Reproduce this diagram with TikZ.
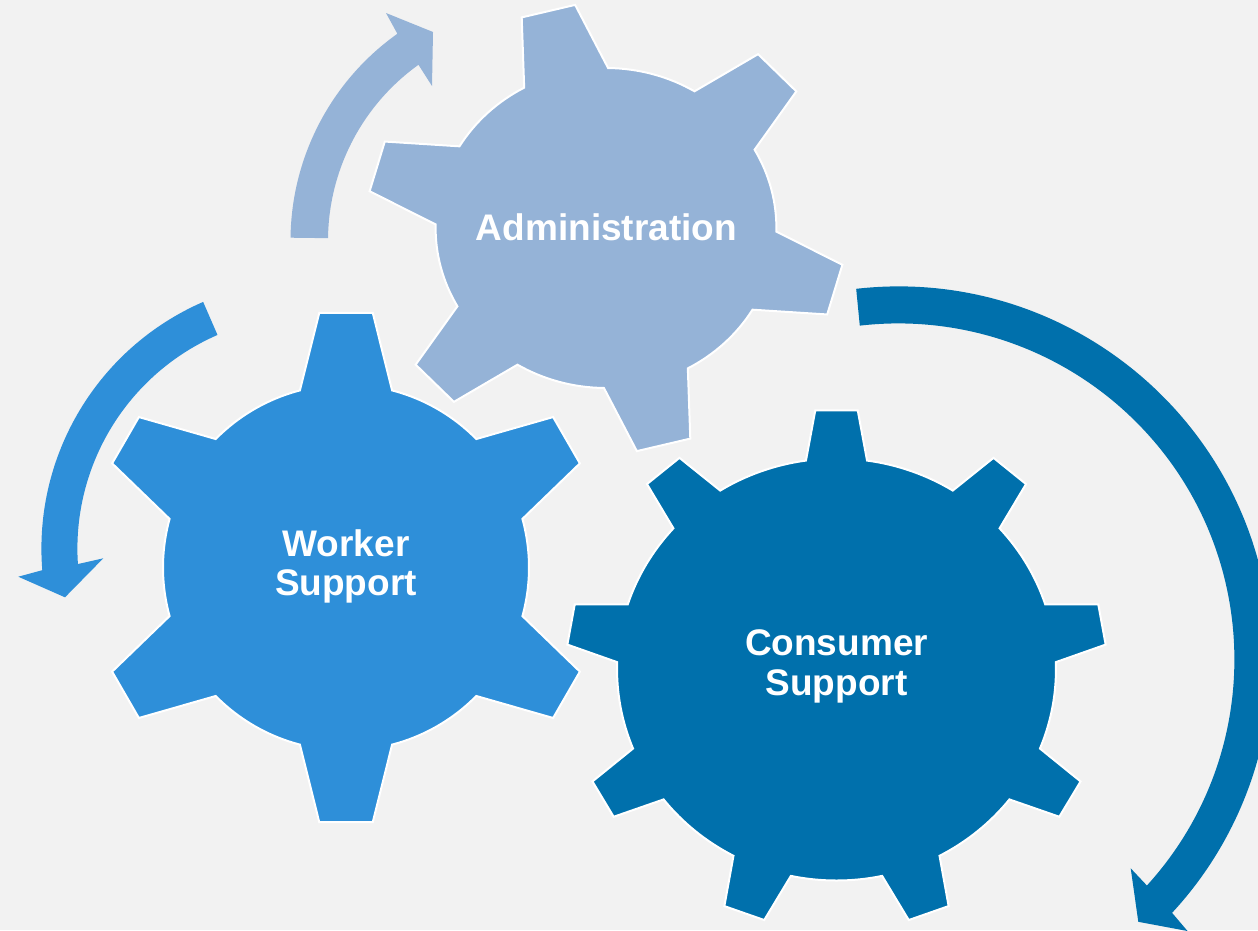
\documentclass[tikz,border=0pt]{standalone}
\usepackage{fontspec}
\setmainfont{Liberation Sans}
\usetikzlibrary{calc}
\definecolor{bg}{HTML}{F2F2F2}
\definecolor{adm}{HTML}{95B3D7}
\definecolor{wrk}{HTML}{2E8FD9}
\definecolor{cns}{HTML}{0070AC}
\tikzset{
  gearshape/.style={line width=2pt, draw=white, line join=miter},
  gearlabel/.style={text=white, font=\fontsize{37}{38.5}\selectfont\bfseries, align=center, inner sep=0pt, anchor=base},
}
\begin{document}
\begin{tikzpicture}[x=1pt,y=1pt]
\useasboundingbox (0,0) rectangle (1258,-930);
\fill[bg] (0,0) rectangle (1258,-930);
\clip (0,0) rectangle (1258,-930);

% centres
\coordinate (cAdm) at (606,-228);
\coordinate (cWrk) at (346,-567.5);
\coordinate (cCns) at (836.5,-669.5);
\coordinate (aTop) at (544.5,-240.8);
\coordinate (aLeft) at (310.4,-548.6);
\coordinate (aRight) at (898.4,-659.4);

% Worker gear
\begin{scope}[shift={(cWrk)}]
\filldraw[gearshape, fill=wrk] ({90-14.6}:183)
  \foreach \k in {0,...,5}{
    -- ({90+60*\k-6}:256) -- ({90+60*\k+6}:256) -- ({90+60*\k+14.6}:183)
    arc[start angle={90+60*\k+14.6}, end angle={90+60*(\k+1)-14.6}, radius=183]
  } -- cycle;
\end{scope}

% Administration gear
\begin{scope}[shift={(cAdm)}, xscale=1.065]
\filldraw[gearshape, fill=adm] ({44-14.7}:160)
  \foreach \k in {0,...,5}{
    -- ({44+60*\k-6.6}:225) -- ({44+60*\k+6.6}:225) -- ({44+60*\k+14.7}:160)
    arc[start angle={44+60*\k+14.7}, end angle={44+60*(\k+1)-14.7}, radius=160]
  } -- cycle;
\end{scope}

% Consumer gear
\begin{scope}[shift={(cCns)}, xscale=1.04]
\filldraw[gearshape, fill=cns] ({90-8}:211)
  \foreach \k in {0,...,8}{
    -- ({90+40*\k-4.5}:260) -- ({90+40*\k+4.5}:260) -- ({90+40*\k+8}:211)
    arc[start angle={90+40*\k+8}, end angle={90+40*(\k+1)-8}, radius=211]
  } -- cycle;
\end{scope}

% Arrows
\coordinate (hTopA) at (386,-13);
\coordinate (hTopT) at (433,-32);
\coordinate (hTopB) at (432,-86);
\fill[adm] ($(aTop)+(179.3:254)$) arc[start angle=179.3, end angle=125.4, radius=254]
  -- (hTopA) -- (hTopT) -- (hTopB) -- ($(aTop)+(125.6:216.5)$)
  arc[start angle=125.6, end angle=179.3, radius=216.5] -- cycle;

\coordinate (hLeftA) at (18.3,-576.7);
\coordinate (hLeftT) at (65,-597.3);
\coordinate (hLeftB) at (103.3,-558.3);
\fill[wrk] ($(aLeft)+(113.5:269)$) arc[start angle=113.5, end angle=184.6, radius=269]
  -- (hLeftA) -- (hLeftT) -- (hLeftB) -- ($(aLeft)+(183.8:233)$)
  arc[start angle=183.8, end angle=113.5, radius=233] -- cycle;

\coordinate (hRightA) at (1187.5,-931);
\coordinate (hRightT) at (1138.3,-921.8);
\coordinate (hRightB) at (1130.7,-868.3);
\fill[cns] ($(aRight)+(96.5:373)$) arc[start angle=96.5, end angle=-42.8, radius=373]
  -- (hRightA) -- (hRightT) -- (hRightB) -- ($(aRight)+(-42.3:336)$)
  arc[start angle=-42.3, end angle=96.6, radius=336] -- cycle;

% Labels (anchor base = baseline of the last line)
\node[gearlabel] (lAdm) at (606.5,-240) {Administration};
\node[gearlabel] (lWrk) at (346,-595) {Worker\\Support};
\node[gearlabel, font=\fontsize{37}{40}\selectfont\bfseries] (lCns) at (836.5,-695) {Consumer\\Support};
\end{tikzpicture}
\end{document}
